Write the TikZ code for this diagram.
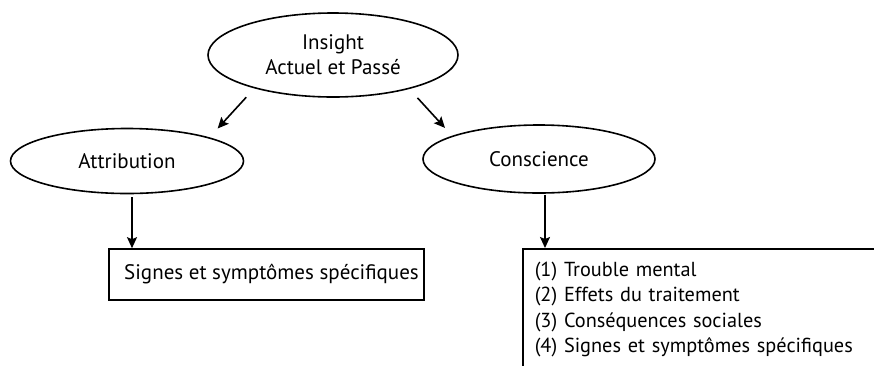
\documentclass[tikz,border=0pt]{standalone}
\usepackage{fontspec}
\setmainfont{PT Sans}
\usetikzlibrary{shapes.geometric, arrows.meta}
\tikzstyle{oval} = [ellipse, inner sep=0pt, text centered, draw=black, line width=1.6pt]
\tikzstyle{labelbox} = [rectangle, minimum width=315pt, minimum height=51pt, text centered, draw=black, line width=1.6pt]
\tikzstyle{listbox} = [rectangle, anchor=north west, minimum height=121pt, text width=380pt, inner xsep=12pt, align=left, draw=black, line width=1.6pt, font=\fontsize{20.3}{25.5}\selectfont]
\tikzstyle{arrow} = [line width=1.6pt,-{Stealth[length=11pt, width=10pt, inset=2pt]}]

\begin{document}
\begin{tikzpicture}[x=1pt, y=-1pt, font=\fontsize{21}{27}\selectfont]
		\useasboundingbox (0,0) rectangle (874,365);
		\clip (0,0) rectangle (874,365);
		
		\node (insight) [oval, minimum width=250pt, minimum height=84pt, align=center, font=\fontsize{21}{25}\selectfont] at (333,55) {Insight\\Actuel et Passé};
		\node (attr) [oval, minimum width=233pt, minimum height=65pt] at (127,161) {Attribution};
		\node (consc) [oval, minimum width=232pt, minimum height=68pt] at (539,159) {Conscience};
		
		\node (signs) [labelbox] at (266.5,274.5) {\hspace*{10pt}Signes et symptômes spécifiques};
		\node (list) [listbox] at (522,248) {(1) Trouble mental\\(2) Effets du traitement\\(3) Conséquences sociales\\(4) Signes et symptômes spécifiques};
		
		\draw [arrow, shorten <=12pt, shorten >=12pt] (insight.203.7) -- (attr.16.7);
		\draw [arrow, shorten <=12pt, shorten >=10.6pt] (insight.336.3) -- (consc.165.3);
		
		\draw [arrow, shorten <=3pt] ([xshift=5pt]attr.south) -- ([xshift=5pt]attr.south |- signs.north);
		\draw [arrow, shorten <=1pt] ([xshift=6pt]consc.south) -- ([xshift=6pt]consc.south |- list.north);
\end{tikzpicture}
\end{document}
